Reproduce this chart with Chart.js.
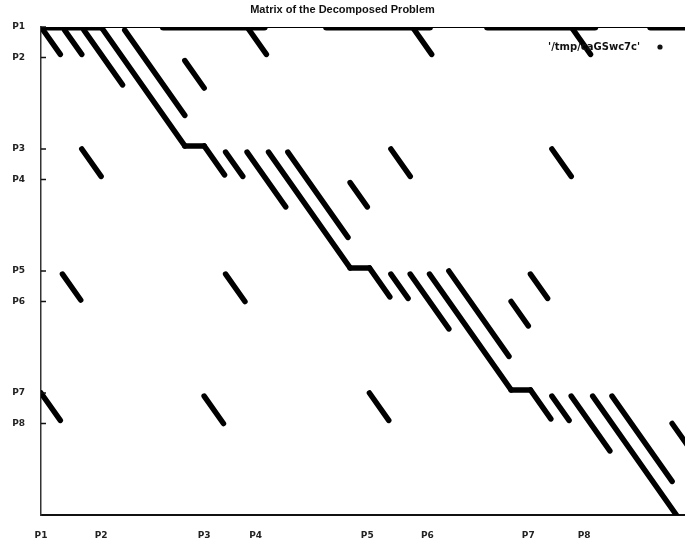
<!DOCTYPE html>
<html>
<head>
<meta charset="utf-8">
<script src="https://cdn.jsdelivr.net/npm/chart.js@4.4.1/dist/chart.umd.min.js"></script>
<style>html,body{margin:0;padding:0;background:#fff}</style>
</head>
<body>
<canvas id="spy" width="685" height="538"></canvas>
<script>
const TITLE="Matrix of the Decomposed Problem";
const LEGEND="'/tmp/caGSwc7c'";
const X_TICKS=[0,28,76,100,152,180,227,253];
const Y_TICKS=[0,10,40,50,80,90,120,130];
const TICK_LABELS=["P1","P2","P3","P4","P5","P6","P7","P8"];
const N_COLS=300, N_ROWS=160;

/* linking row (row 0): dense stretches [from col, to col] */
const topDense=[[0,28],[57,104],[133,181],[208,258],[284,300]];

/* diagonal blocks: [first col, first row, length] */
const blockRuns=[
  [1,1,8],[11,1,8],[20,1,18],[28,0,39],[39,1,28],
  [76,39,9.5],[86,41,8],[96,41,18],[106,41,38],[115,41,28],
  [153,79,9.5],[163,81,8],[172,81,18],[181,81,38],[190,80,28],
  [228,119,9.5],[238,121,8],[247,121,18],[257,121,39],[266,121,28]
];
/* steps between blocks: [from col, to col, row] */
const steps=[[67,76,39],[144,153,79],[219,228,119]];

/* coupling entries off the block diagonal */
const offRuns=[
  [96,0,9],[173,0,9],[247,0,9],
  [67,11,9],
  [19,40,9],[163,40,9],[238,40,9],
  [144,51,8],
  [10,81,8.5],[86,81,9],[228,81,8],
  [219,90,8],
  [0,120,9],[76,121,9],[153,120,9],
  [294,130,8]
];

/* ===== DATASETS ===== */
const base={showLine:true,pointRadius:0,borderColor:"#000",backgroundColor:"#000",
  borderCapStyle:"round",borderJoinStyle:"round",tension:0,fill:false};
function seg(a,b,w){return Object.assign({},base,{data:[a,b],borderWidth:w})}
function run(r,w){return seg({x:r[0],y:r[1]},{x:r[0]+r[2],y:r[1]+r[2]},w)}

const sets=[];
sets.push(Object.assign(seg({x:0,y:0},{x:N_COLS,y:0},2.2),{label:LEGEND}));
topDense.forEach(d=>sets.push(seg({x:d[0],y:0},{x:d[1],y:0},7)));
blockRuns.forEach(r=>sets.push(run(r,5.5)));
steps.forEach(s=>sets.push(seg({x:s[0],y:s[2]},{x:s[1],y:s[2]},5.5)));
offRuns.forEach(r=>sets.push(run(r,5.5)));

/* ===== PLUGINS ===== */
const inTicks={id:"inTicks",afterDraw(c){
  const {ctx,chartArea:a,scales:{y}}=c;
  ctx.save();ctx.strokeStyle="#111";ctx.lineWidth=1.5;
  Y_TICKS.forEach(v=>{const p=y.getPixelForValue(v);
    ctx.beginPath();ctx.moveTo(a.left,p);ctx.lineTo(a.left+5,p);ctx.stroke();});
  ctx.restore();
}};
const keyBox={id:"keyBox",afterDraw(c){
  const {ctx,chartArea:a}=c;
  ctx.save();ctx.font="bold 10px 'DejaVu Sans'";ctx.fillStyle="#111";
  ctx.textAlign="right";ctx.textBaseline="middle";
  ctx.fillText(LEGEND,a.right-45,a.top+20);
  ctx.beginPath();ctx.arc(a.right-25,a.top+20,2.6,0,Math.PI*2);ctx.fill();
  ctx.restore();
}};

const tickFont={family:"'DejaVu Sans'",size:9,weight:"bold"};

new Chart(document.getElementById("spy"),{
  type:"scatter",
  data:{datasets:sets},
  options:{
    responsive:false,animation:false,
    layout:{padding:0},
    plugins:{
      legend:{display:false},tooltip:{enabled:false},
      title:{display:true,text:TITLE,color:"#111",
        font:{family:"'Liberation Sans'",size:11},padding:{top:3,bottom:10.8}}
    },
    scales:{
      x:{type:"linear",min:0,max:N_COLS,
        afterBuildTicks:s=>{s.ticks=X_TICKS.map(v=>({value:v}))},
        afterFit:s=>{s.height=23},
        ticks:{callback:(v,i)=>TICK_LABELS[i],font:tickFont,color:"#222",
          maxRotation:0,autoSkip:false,padding:7},
        grid:{display:false},
        border:{display:true,color:"#111",width:2}},
      y:{type:"linear",min:0,max:N_ROWS,reverse:true,
        afterBuildTicks:s=>{s.ticks=Y_TICKS.map(v=>({value:v}))},
        afterFit:s=>{s.width=41},
        ticks:{callback:(v,i)=>TICK_LABELS[i],font:tickFont,color:"#222",
          autoSkip:false,padding:8},
        grid:{display:false},
        border:{display:true,color:"#333",width:1.5,dash:[2,7]}}
    }
  },
  plugins:[inTicks,keyBox]
});
</script>
</body>
</html>
